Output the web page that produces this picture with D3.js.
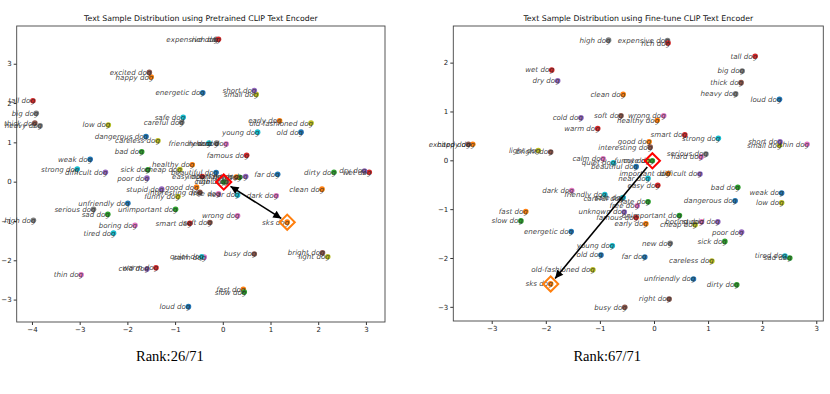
<!DOCTYPE html>
<html>
<head>
<meta charset="utf-8">
<script src="https://cdn.jsdelivr.net/npm/d3@7"></script>
<style>
  body { margin: 0; background: #fff; }
  svg { display: block; }
  .tick text { font-family: "DejaVu Sans", sans-serif; font-size: 7px; fill: #222; }
  .tick line { stroke: #333; }
</style>
</head>
<body>
<div class="chart"></div>
<script>
// labels are listed so that index % 10 gives the matplotlib colour cycle
const categories = [
  "beautiful dog", "happy dog", "late dog", "wet dog", "dry dog", "excited dog", "calm dog", "high dog", "light dog", "quiet dog",
  "energetic dog", "clean dog", "unimportant dog", "warm dog", "cold dog", "bright dog", "wrong dog", "expensive dog", "small dog", "strong dog",
  "old dog", "healthy dog", "bad dog", "smart dog", "short dog", "soft dog", "hard dog", "big dog", "funny dog", "near dog",
  "weak dog", "good dog", "sick dog", "easy dog", "difficult dog", "interesting dog", "free dog", "heavy dog", "cheap dog", "friendly dog",
  "dangerous dog", "important dog", "sad dog", "famous dog", "unknown dog", "right dog", "dark dog", "serious dog", "low dog", "young dog",
  "far dog", "early dog", "dirty dog", "tall dog", "stupid dog", "busy dog", "boring dog", "new dog", "careless dog", "tired dog",
  "unfriendly dog", "fast dog", "slow dog", "rich dog", "poor dog", "thick dog", "thin dog", "careful dog", "old-fashioned dog", "safe dog",
  "loud dog", "sks dog", "cute dog"
];

const pretrainedX = [
  -0.14, -1.50, 0.35, 3.07, 2.97, -1.54, -0.39, -3.97, 2.20, -0.44,
  -0.42, 2.08, -0.99, -1.40, -1.59, 2.09, 0.31, -0.14, 0.70, -3.05,
  1.64, -0.64, -1.70, -0.69, 0.66, -0.27, 0.07, -3.91, -0.94, 0.31,
  -2.78, -0.55, -1.57, -0.43, -2.46, -0.48, -0.09, -3.83, -0.90, -0.29,
  -1.61, 0.28, -2.41, 0.50, 0.48, 0.08, 1.12, -2.71, -2.40, 0.73,
  1.15, 1.19, 2.33, -3.98, -1.28, 0.66, -1.84, -0.13, -1.36, -2.29,
  -1.99, 0.43, 0.45, -0.09, -1.59, -3.94, -2.97, -0.86, 1.85, -0.83,
  -0.72, 1.35, 0.02
];
const pretrainedY = [
  0.23, 2.66, 0.11, 0.24, 0.27, 2.78, -1.92, -0.98, -1.91, -1.91,
  2.26, -0.19, -0.70, -2.19, -2.22, -1.81, -0.87, 3.62, 2.22, 0.32,
  1.26, 0.43, 0.76, -1.06, 2.32, -1.04, 0.96, 1.74, -0.38, -0.34,
  0.57, -0.14, 0.30, 0.13, 0.24, -0.27, -0.31, 1.42, 0.31, 0.98,
  1.15, 0.12, -0.83, 0.67, 0.13, 0.00, -0.36, -0.70, 1.44, 1.26,
  0.19, 1.55, 0.24, 2.06, -0.19, -1.84, -1.11, 0.98, 1.04, -1.31,
  -0.55, -2.74, -2.81, 3.62, 0.09, 1.49, -2.37, 1.51, 1.49, 1.64,
  -3.18, -1.03, -0.01
];

const finetuneX = [
  -0.33, -3.35, -0.11, -1.89, -1.78, -3.43, -0.94, -0.84, -2.14, -0.75,
  -1.53, -0.57, 0.47, -1.04, -1.35, -1.91, 0.18, 0.25, 2.32, 1.19,
  -0.98, 0.06, 1.55, 0.57, 2.33, -0.61, 0.87, 1.63, -0.11, -0.11,
  2.36, -0.09, 1.31, 0.07, 0.85, -0.07, -0.31, 1.51, 0.76, -0.91,
  1.50, 0.26, 2.51, -0.33, -0.55, 0.28, -1.52, 0.96, 2.36, -0.77,
  -0.17, -0.15, 1.53, 1.87, 1.18, -0.54, 0.88, 0.30, 1.07, 2.42,
  0.73, -2.37, -2.46, 0.26, 1.62, 1.61, 2.83, -0.60, -1.13, -0.57,
  2.32, -1.91, -0.03
];
const finetuneY = [
  -0.13, 0.33, -0.85, 1.85, 1.63, 0.33, 0.03, 2.46, 0.20, -0.05,
  -1.46, 1.35, -1.13, 0.65, 0.87, 0.17, 0.91, 2.45, 0.31, 0.45,
  -1.94, 0.82, -0.55, 0.52, 0.38, 0.91, 0.07, 1.83, -0.01, -0.37,
  -0.67, 0.38, -1.66, -0.51, -0.28, 0.27, -0.93, 1.36, -1.32, -0.70,
  -0.83, -0.27, -2.00, -1.17, -1.06, -2.84, -0.62, 0.13, -0.87, -1.75,
  -1.98, -1.30, -2.55, 2.13, -1.26, -3.01, -1.26, -1.70, -2.06, -1.96,
  -2.43, -1.05, -1.24, 2.40, -1.47, 1.59, 0.33, -0.78, -2.24, -0.76,
  1.25, -2.53, -0.01
];

const titles = [
  "Text Sample Distribution using Pretrained CLIP Text Encoder",
  "Text Sample Distribution using Fine-tune CLIP Text Encoder"
];
const rankLabels = ["Rank:26/71", "Rank:67/71"];
const pretrainedXTicks = [-4, -3, -2, -1, 0, 1, 2, 3];
const pretrainedYTicks = [-3, -2, -1, 0, 1, 2, 3];
const finetuneXTicks = [-3, -2, -1, 0, 1, 2, 3];
const finetuneYTicks = [-3, -2, -1, 0, 1, 2];

const subject = "sks dog";
const target = "cute dog";

const width = 830, height = 394;
const color = d3.scaleOrdinal(d3.schemeCategory10);

let svg = d3.select(".chart").append("svg")
  .attr("width", width)
  .attr("height", height);

let defs = svg.append("defs");
defs.append("marker")
  .attr("id", "head")
  .attr("viewBox", "0 0 10 10")
  .attr("refX", 10).attr("refY", 5)
  .attr("markerWidth", 9).attr("markerHeight", 8)
  .attr("markerUnits", "userSpaceOnUse")
  .attr("orient", "auto-start-reverse")
  .append("path")
  .attr("d", "M0,0 L10,5 L0,10 z")
  .attr("fill", "#000");

const panels = [
  { xs: pretrainedX, ys: pretrainedY, left: 16.7, right: 385, top: 26, bottom: 322,
    xDom: [-4.32, 3.40], yDom: [-3.57, 3.96], xTicks: pretrainedXTicks, yTicks: pretrainedYTicks, both: true },
  { xs: finetuneX, ys: finetuneY, left: 453.3, right: 823.3, top: 26, bottom: 321,
    xDom: [-3.71, 3.13], yDom: [-3.29, 2.75], xTicks: finetuneXTicks, yTicks: finetuneYTicks, both: false }
];

panels.forEach((p, k) => {
  let x = d3.scaleLinear().domain(p.xDom).range([p.left, p.right]);
  let y = d3.scaleLinear().domain(p.yDom).range([p.bottom, p.top]);
  let g = svg.append("g");

  g.append("text")
    .attr("x", (p.left + p.right) / 2)
    .attr("y", 21)
    .attr("text-anchor", "middle")
    .style("font-family", "DejaVu Sans, sans-serif")
    .style("font-size", "7.8px")
    .style("fill", "#111")
    .text(titles[k]);

  g.append("g")
    .attr("transform", "translate(0," + p.bottom + ")")
    .call(d3.axisBottom(x).tickValues(p.xTicks).tickSize(3).tickPadding(2).tickFormat(d3.format("d")))
    .call(a => a.select(".domain").remove());
  g.append("g")
    .attr("transform", "translate(" + p.left + ",0)")
    .call(d3.axisLeft(y).tickValues(p.yTicks).tickSize(3).tickPadding(2).tickFormat(d3.format("d")))
    .call(a => a.select(".domain").remove());

  g.append("rect")
    .attr("x", p.left).attr("y", p.top)
    .attr("width", p.right - p.left).attr("height", p.bottom - p.top)
    .attr("fill", "none").attr("stroke", "#444").attr("stroke-width", 0.9);

  let pts = categories.map((c, i) => ({ label: c, i: i, x: x(p.xs[i]), y: y(p.ys[i]) }));

  g.selectAll(".dot")
    .data(pts)
    .enter().append("circle")
      .attr("class", "dot")
      .attr("cx", d => d.x)
      .attr("cy", d => d.y)
      .attr("r", 2.8)
      .attr("fill", d => color(d.i % 10));

  g.selectAll(".lbl")
    .data(pts)
    .enter().append("text")
      .attr("class", "lbl")
      .attr("x", d => d.x + 2)
      .attr("y", d => d.y)
      .attr("dy", "0.34em")
      .attr("text-anchor", "end")
      .style("font-family", "DejaVu Sans, sans-serif")
      .style("font-style", "italic")
      .style("font-size", "7.1px")
      .style("fill", "#2a2a2a")
      .style("fill-opacity", 0.9)
      .text(d => d.label);

  let s = pts[categories.indexOf(subject)];
  let t = pts[categories.indexOf(target)];
  let diamond = d3.symbol().type(d3.symbolSquare).size(115);
  g.append("path")
    .attr("d", diamond())
    .attr("transform", "translate(" + t.x + "," + t.y + ") rotate(45)")
    .attr("fill", "none").attr("stroke", "#ff0000").attr("stroke-width", 2);
  g.append("path")
    .attr("d", diamond())
    .attr("transform", "translate(" + s.x + "," + s.y + ") rotate(45)")
    .attr("fill", "none").attr("stroke", "#ff7f0e").attr("stroke-width", 2);

  let dx = s.x - t.x, dy = s.y - t.y, len = Math.hypot(dx, dy);
  let ux = dx / len, uy = dy / len;
  let line = g.append("line")
    .attr("x1", t.x + ux * 8).attr("y1", t.y + uy * 8)
    .attr("x2", s.x - ux * 7).attr("y2", s.y - uy * 7)
    .attr("stroke", "#000").attr("stroke-width", 1.6)
    .attr("marker-end", "url(#head)");
  if (p.both) line.attr("marker-start", "url(#head)");

  g.append("text")
    .attr("x", (p.left + p.right) / 2 - 31)
    .attr("y", 361)
    .attr("text-anchor", "middle")
    .style("font-family", "Liberation Serif, serif")
    .style("font-size", "14.5px")
    .style("fill", "#000")
    .text(rankLabels[k]);
});
</script>
</body>
</html>
